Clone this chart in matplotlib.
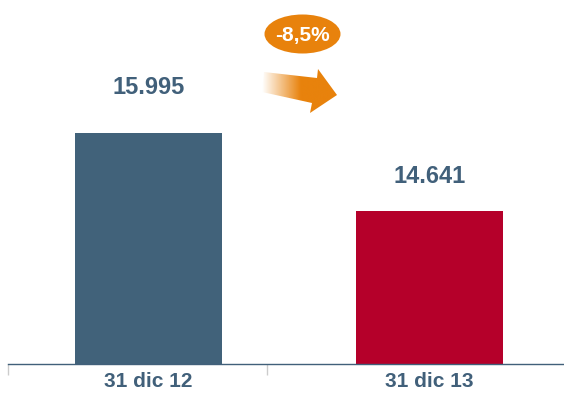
import numpy as np
import matplotlib.pyplot as plt
from matplotlib.patches import Ellipse, Polygon
from matplotlib.colors import LinearSegmentedColormap

# dati
categorie = ["31 dic 12", "31 dic 13"]
valori = [15995, 14641]
etichette = ["15.995", "14.641"]
variazione = "-8,5%"
colori = ["#41627a", "#b5002a"]
col_testo = "#41607a"
arancio = "#e8820c"

# distanza (pixel) tra cima della barra e base dell'etichetta
distanze = [39, 28]

plt.rcParams['font.family'] = ['Liberation Sans', 'DejaVu Sans']

fig = plt.figure(figsize=(5.64, 4.01), dpi=100)
ax = fig.add_axes([8 / 564, 37 / 401, 1 - 8 / 564, 364 / 401])

x = np.arange(len(categorie))
ax.bar(x, valori, width=0.524, color=colori, zorder=2)
for xi, v, lab, d in zip(x, valori, etichette, distanze):
    ax.annotate(lab, (xi, v), xytext=(0, d), textcoords='offset pixels',
                ha='center', va='baseline', fontsize=17, fontweight='bold',
                color=col_testo)

ax.set_xlim(-0.5, 1.48)
ax.set_ylim(12000, 18297)
ax.set_yticks([])
ax.set_xticks(x)
ax.set_xticklabels(categorie, fontsize=15, fontweight='bold', color=col_testo)
ax.tick_params(axis='x', which='major', length=0, pad=6)
ax.set_xticks([-0.5, 0.4225], minor=True)
ax.tick_params(axis='x', which='minor', length=8, color='#cccccc', width=1)
for s in ['top', 'right', 'left']:
    ax.spines[s].set_visible(False)
ax.spines['bottom'].set_color(col_testo)
ax.spines['bottom'].set_linewidth(1)

# freccia e bolla con la variazione (coordinate in pixel)
ov = fig.add_axes([0, 0, 1, 1])
ov.set_xlim(0, 564)
ov.set_ylim(401, 0)
ov.axis('off')

punti = [(264, 72), (317, 78), (318, 69), (337, 95), (310, 113), (312, 103), (262, 92)]
freccia = Polygon(punti, closed=True, facecolor='none', edgecolor='none')
ov.add_patch(freccia)
cmap = LinearSegmentedColormap.from_list('grad', ['#ffffff', arancio])
grad = np.clip(np.linspace(0, 1, 200) / 0.5, 0, 1)[None, :]
img = ov.imshow(grad, extent=(262, 340, 115, 66), cmap=cmap, aspect='auto', vmin=0, vmax=1)
img.set_clip_path(freccia)

ov.add_patch(Ellipse((302.5, 34), 76, 39, facecolor=arancio, edgecolor='none'))
ov.text(302.5, 35.5, variazione, ha='center', va='center', fontsize=15,
        fontweight='bold', color='white')

fig.savefig("out.png", dpi=100)
